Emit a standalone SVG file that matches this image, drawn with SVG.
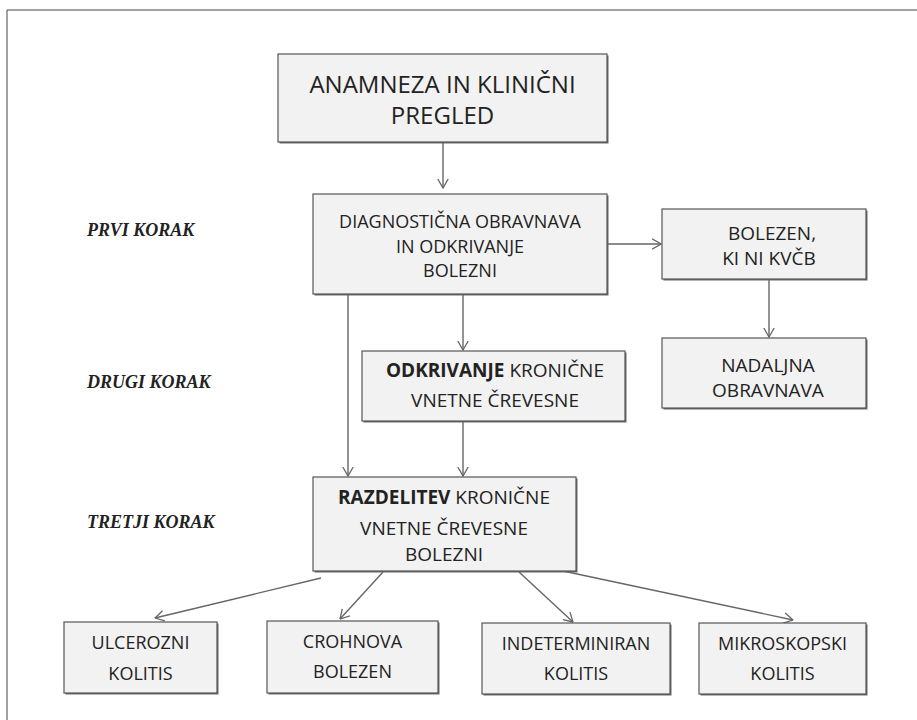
<svg xmlns="http://www.w3.org/2000/svg" width="917" height="720" viewBox="0 0 917 720">
<style>
.box{fill:#f2f2f2;stroke:#555;stroke-width:1.2}
.sh{fill:#6a6a6a}
.t{font-family:"Open Sans","Noto Sans",sans-serif;fill:#222;text-anchor:middle}
.b{font-weight:700}
.lab{font-family:"Liberation Serif","Times New Roman",serif;font-weight:700;font-style:italic;font-size:18px;fill:#222}
.c{fill:none;stroke:#666;stroke-width:1.4}
</style>
<defs>
<marker id="ah" viewBox="0 0 10 12" refX="9.5" refY="6" markerWidth="10" markerHeight="12" markerUnits="userSpaceOnUse" orient="auto">
<path d="M0.5,0.8 L9.5,6 L0.5,11.2" fill="none" stroke="#666" stroke-width="1.3"/>
</marker>
</defs>
<rect width="917" height="720" fill="#fff"/>
<path d="M7,720 V10 H917" fill="none" stroke="#444" stroke-width="1"/>

<g id="labels">
<text class="lab" x="87" y="236">PRVI KORAK</text>
<text class="lab" x="87" y="388">DRUGI KORAK</text>
<text class="lab" x="87" y="528">TRETJI KORAK</text>
</g>

<g id="connectors">
<line class="c" x1="443" y1="142" x2="443" y2="188" marker-end="url(#ah)"/>
<line class="c" x1="348" y1="294" x2="348" y2="476" marker-end="url(#ah)"/>
<line class="c" x1="463" y1="294" x2="463" y2="350" marker-end="url(#ah)"/>
<line class="c" x1="463" y1="421" x2="463" y2="476" marker-end="url(#ah)"/>
<line class="c" x1="607" y1="244" x2="661" y2="244" marker-end="url(#ah)"/>
<line class="c" x1="769" y1="279" x2="769" y2="337" marker-end="url(#ah)"/>
<line class="c" x1="321" y1="578" x2="155" y2="618" marker-end="url(#ah)"/>
<line class="c" x1="383" y1="572" x2="340" y2="619" marker-end="url(#ah)"/>
<line class="c" x1="519" y1="572" x2="573" y2="622" marker-end="url(#ah)"/>
<line class="c" x1="563" y1="571" x2="793" y2="620" marker-end="url(#ah)"/>
</g>

<g id="n-anamneza">
<rect class="sh" x="279.5" y="55.5" width="329" height="88"/>
<rect class="box" x="278" y="54" width="329" height="88"/>
<text class="t" font-size="24" x="442.5" y="93">ANAMNEZA IN KLINIČNI</text>
<text class="t" font-size="24" x="442.5" y="124">PREGLED</text>
</g>

<g id="n-diagnosticna">
<rect class="sh" x="314.5" y="195.5" width="294" height="100"/>
<rect class="box" x="313" y="194" width="294" height="100"/>
<text class="t" font-size="18" x="460" y="228">DIAGNOSTIČNA OBRAVNAVA</text>
<text class="t" font-size="18" x="460" y="252.5">IN ODKRIVANJE</text>
<text class="t" font-size="18" x="460" y="277">BOLEZNI</text>
</g>

<g id="n-bolezen-ni">
<rect class="sh" x="663.5" y="210.5" width="204" height="70"/>
<rect class="box" x="662" y="209" width="204" height="70"/>
<text class="t" font-size="19" x="772" y="240">BOLEZEN,</text>
<text class="t" font-size="19" x="769" y="265">KI NI KVČB</text>
</g>

<g id="n-nadaljna">
<rect class="sh" x="663.5" y="339.5" width="204" height="70"/>
<rect class="box" x="662" y="338" width="204" height="70"/>
<text class="t" font-size="19" x="768" y="372">NADALJNA</text>
<text class="t" font-size="19" x="768" y="397">OBRAVNAVA</text>
</g>

<g id="n-odkrivanje">
<rect class="sh" x="363.5" y="352.5" width="263" height="70"/>
<rect class="box" x="362" y="351" width="263" height="70"/>
<text class="t" font-size="19" x="495" y="377"><tspan class="b">ODKRIVANJE</tspan> KRONIČNE</text>
<text class="t" font-size="19" x="495" y="407">VNETNE ČREVESNE</text>
</g>

<g id="n-razdelitev">
<rect class="sh" x="314.5" y="478.5" width="263" height="94"/>
<rect class="box" x="313" y="477" width="263" height="94"/>
<text class="t" font-size="19" x="444" y="504"><tspan class="b">RAZDELITEV</tspan> KRONIČNE</text>
<text class="t" font-size="19" x="444" y="535">VNETNE ČREVESNE</text>
<text class="t" font-size="19" x="444" y="561">BOLEZNI</text>
</g>

<g id="n-ulcerozni">
<rect class="sh" x="65.5" y="623.5" width="153" height="71"/>
<rect class="box" x="64" y="622" width="153" height="71"/>
<text class="t" font-size="18" x="140.5" y="649">ULCEROZNI</text>
<text class="t" font-size="18" x="140.5" y="680">KOLITIS</text>
</g>

<g id="n-crohnova">
<rect class="sh" x="268.5" y="622.5" width="171" height="72"/>
<rect class="box" x="267" y="621" width="171" height="72"/>
<text class="t" font-size="18" x="352.5" y="648">CROHNOVA</text>
<text class="t" font-size="18" x="352.5" y="678">BOLEZEN</text>
</g>

<g id="n-indeterminiran">
<rect class="sh" x="483.5" y="624.5" width="188" height="71"/>
<rect class="box" x="482" y="623" width="188" height="71"/>
<text class="t" font-size="18" x="576" y="650">INDETERMINIRAN</text>
<text class="t" font-size="18" x="576" y="680">KOLITIS</text>
</g>

<g id="n-mikroskopski">
<rect class="sh" x="700.5" y="624.5" width="167" height="71"/>
<rect class="box" x="699" y="623" width="167" height="71"/>
<text class="t" font-size="18" x="782.5" y="650">MIKROSKOPSKI</text>
<text class="t" font-size="18" x="782.5" y="680">KOLITIS</text>
</g>
</svg>
